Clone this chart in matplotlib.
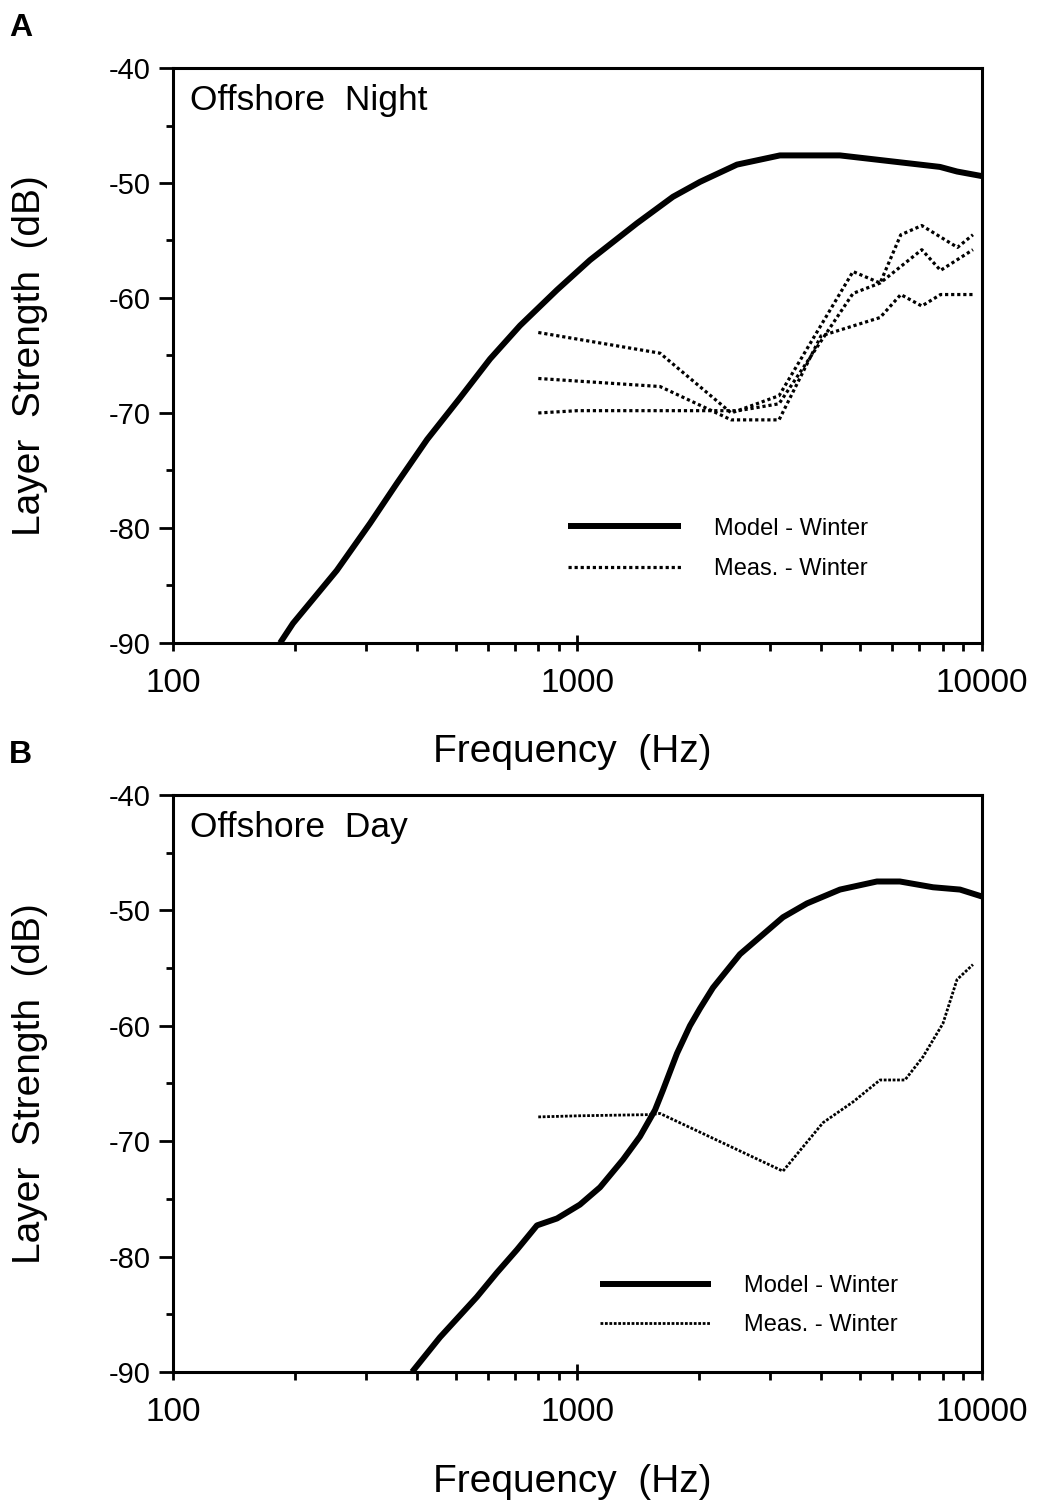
import matplotlib.pyplot as plt
import matplotlib as mpl
import numpy as np

plt.rcParams['font.family'] = ['Liberation Sans', 'DejaVu Sans']
plt.rcParams['axes.unicode_minus'] = False

# panel A - offshore night
model_a_f = [184, 198, 254, 307, 358, 425, 512, 608, 721, 890, 1074, 1403,
             1722, 2009, 2479, 3166, 4456, 5596, 7874, 8676, 10000]
model_a_db = [-90, -88.3, -83.7, -79.6, -76.1, -72.3, -68.7, -65.3, -62.4,
              -59.3, -56.7, -53.5, -51.2, -49.9, -48.4, -47.6, -47.6, -48.0,
              -48.6, -49.0, -49.4]

meas1_f = [800, 1600, 2400, 3150, 4800, 5600, 6300, 7100, 8700, 9500]
meas1_db = [-63.0, -64.8, -70.0, -68.5, -57.7, -58.7, -54.5, -53.7, -55.6, -54.5]
meas2_f = [800, 1600, 2400, 3150, 4000, 5600, 6300, 7100, 7900, 9500]
meas2_db = [-67.0, -67.7, -70.6, -70.6, -63.3, -61.7, -59.7, -60.7, -59.7, -59.7]
meas3_f = [800, 1000, 2500, 3150, 4800, 5600, 7100, 7900, 9500]
meas3_db = [-70.0, -69.8, -69.8, -69.2, -59.6, -58.7, -55.8, -57.6, -55.8]

# panel B - offshore day
model_b_f = [390, 457, 564, 632, 709, 794, 890, 1014, 1137, 1296, 1427, 1555,
             1626, 1762, 1897, 2009, 2163, 2522, 3221, 3693, 4456, 5500, 6267,
             7568, 8826, 10000]
model_b_db = [-90.0, -87.0, -83.5, -81.4, -79.4, -77.3, -76.7, -75.5, -74.0,
              -71.6, -69.6, -67.3, -65.6, -62.4, -60.0, -58.5, -56.7, -53.8,
              -50.6, -49.4, -48.2, -47.5, -47.5, -48.0, -48.2, -48.8]

measb_f = [800, 1014, 1513, 1600, 3221, 4046, 4800, 5596, 6451, 7146, 8010,
           8676, 9500]
measb_db = [-67.9, -67.8, -67.7, -67.6, -72.6, -68.4, -66.6, -64.7, -64.7,
            -62.7, -59.8, -56.0, -54.7]

fig = plt.figure(figsize=(10.39, 15.05), dpi=100)
axA = fig.add_axes([0.1665, 0.5728, 0.7786, 0.382])
axB = fig.add_axes([0.1665, 0.0884, 0.7786, 0.3834])


def style(ax):
    ax.set_xscale('log')
    ax.set_xlim(100, 10000)
    ax.set_ylim(-90, -40)
    ax.set_xticks([100, 1000, 10000])
    ax.set_xticklabels(['100', '1000', '10000'])
    ax.xaxis.set_minor_locator(mpl.ticker.LogLocator(base=10, subs=np.arange(2, 10)))
    ax.xaxis.set_minor_formatter(mpl.ticker.NullFormatter())
    ax.set_yticks(np.arange(-90, -39, 10))
    ax.set_yticks(np.arange(-85, -40, 10), minor=True)
    ax.tick_params(axis='x', which='major', direction='inout', length=12, width=2,
                   labelsize=24, pad=12)
    ax.tick_params(axis='x', which='minor', direction='out', length=6, width=2)
    ax.tick_params(axis='y', which='major', direction='out', length=10, width=2,
                   labelsize=21, pad=6)
    ax.tick_params(axis='y', which='minor', direction='out', length=5, width=2)
    for s in ax.spines.values():
        s.set_linewidth(2.2)
    ax.set_xlabel('Frequency  (Hz)', fontsize=28, va='center')
    ax.xaxis.set_label_coords(0.493, -0.19)
    ax.set_ylabel('Layer  Strength  (dB)', fontsize=28, va='center')
    ax.yaxis.set_label_coords(-0.177, 0.5)


style(axA)
axA.plot(model_a_f, model_a_db, color='black', lw=4.3, label='Model - Winter',
         solid_capstyle='butt')
axA.plot(meas1_f, meas1_db, color='black', lw=2.3, ls=(0, (1, 0.9)),
         label='Meas. - Winter')
axA.plot(meas2_f, meas2_db, color='black', lw=2.3, ls=(0, (1, 0.9)))
axA.plot(meas3_f, meas3_db, color='black', lw=2.3, ls=(0, (1, 0.9)))
axA.text(0.021, 0.944, 'Offshore  Night', transform=axA.transAxes, fontsize=25.5,
         va='center', ha='left')
axA.legend(loc='upper left', bbox_to_anchor=(0.488, 0.218), frameon=False,
           fontsize=17, handlelength=4.8, handletextpad=1.4, labelspacing=0.78,
           borderpad=0, borderaxespad=0)

style(axB)
axB.plot(model_b_f, model_b_db, color='black', lw=4.3, label='Model - Winter',
         solid_capstyle='butt')
axB.plot(measb_f, measb_db, color='black', lw=2.0, ls=(0, (1, 0.6)),
         label='Meas. - Winter')
axB.text(0.021, 0.944, 'Offshore  Day', transform=axB.transAxes, fontsize=25.5,
         va='center', ha='left')
axB.legend(loc='upper left', bbox_to_anchor=(0.528, 0.168), frameon=False,
           fontsize=17, handlelength=4.7, handletextpad=1.4, labelspacing=0.74,
           borderpad=0, borderaxespad=0)

fig.text(0.009, 1 - 28 / 1505, 'A', fontsize=23, fontweight='bold', va='center')
fig.text(0.009, 1 - 755 / 1505, 'B', fontsize=23, fontweight='bold', va='center')

fig.savefig('out.png', dpi=100)
